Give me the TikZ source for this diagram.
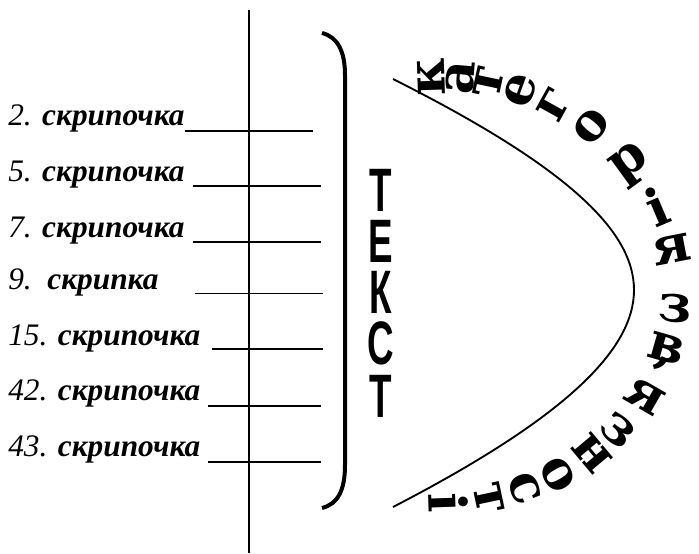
\documentclass[tikz,border=0pt]{standalone}
\usepackage{fontspec}
\setmainfont{Liberation Serif}
\newfontfamily\tsans{Liberation Sans}
\newfontfamily\arcfont{DejaVu Serif}
\begin{document}
\begin{tikzpicture}[x=0.75pt,y=-0.75pt,
  item/.style={anchor=base west, inner sep=0pt, font=\fontsize{23.5}{28}\selectfont},
  uline/.style={line width=1.5pt},
  uthin/.style={line width=1.1pt},
  bigletter/.style={inner sep=0pt, font=\tsans\bfseries\fontsize{46}{46}\selectfont},
  arcletter/.style={inner sep=0pt, font=\arcfont\bfseries\fontsize{39}{39}\selectfont}]
\useasboundingbox (0,0) rectangle (699,553);
% vertical axis
\draw[line width=1.2pt] (249,10) coordinate (vt) -- (249,553) coordinate (vb);
% list
\node[item] (r1) at (8,125) {\textit{2.} \textbf{\textit{скрипочка}}};
\node[item] (r2) at (8,181) {\textit{5.} \textbf{\textit{скрипочка}}};
\node[item] (r3) at (8,237) {\textit{7.} \textbf{\textit{скрипочка}}};
\node[item] (r4) at (8,289) {\textit{9.}\ \ \textbf{\textit{скрипка}}};
\node[item] (r5) at (8,345) {\textit{15.} \textbf{\textit{скрипочка}}};
\node[item] (r6) at (8,400) {\textit{42.} \textbf{\textit{скрипочка}}};
\node[item] (r7) at (8,456) {\textit{43.} \textbf{\textit{скрипочка}}};
\draw[uline] (185,130.5) -- (313,130.5);
\draw[uline] (193,185.5) -- (321,185.5);
\draw[uline] (193,241.5) -- (321,241.5);
\draw[uthin] (195,293.5) -- (323,293.5);
\draw[uthin] (212,349) -- (323,349);
\draw[uline] (208,406) -- (321,406);
\draw[uline] (208,461.5) -- (321,461.5);
% bracket
\draw[line width=3pt] (322,33) .. controls (338,37) and (345,52) .. (345,75) -- (345,465) .. controls (345,490) and (338,504) .. (322,508);
% TEKCT
\node[bigletter] (t1) at (381,190) {\scalebox{0.6}[1]{Т}};
\node[bigletter] (t2) at (381,241) {\scalebox{0.6}[1]{Е}};
\node[bigletter] (t3) at (381,292) {\scalebox{0.6}[1]{К}};
\node[bigletter] (t4) at (381,343) {\scalebox{0.6}[1]{С}};
\node[bigletter] (t5) at (381,396) {\scalebox{0.6}[1]{Т}};
% curve
\draw[line width=1.4pt] (393,79) .. controls (570,168) and (634,232) .. (634,290) .. controls (634,350) and (565,418) .. (393,507);
% arc text
\foreach \a/\l [count=\i] in {92/к, 85/а, 78/т, 70/е, 61/г, 50/о, 36/р, 23/і, 11/я, -5/з, -16/в, -23.5/’, -30/я, -41/з, -50/н, -60/о, -69/с, -78/т, -88/і}
  \node[arcletter, rotate=\a] (c\i) at ({440+236*cos(\a)},{290-213*sin(\a)}) {\l};
\end{tikzpicture}
\end{document}
